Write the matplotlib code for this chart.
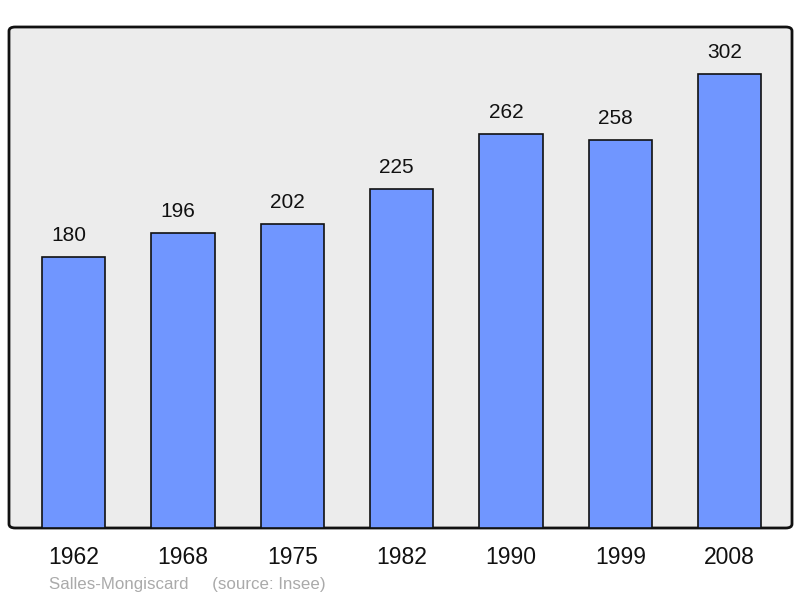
import matplotlib.pyplot as plt
from matplotlib.patches import FancyBboxPatch

years = ['1962', '1968', '1975', '1982', '1990', '1999', '2008']
population = [180, 196, 202, 225, 262, 258, 302]

plt.rcParams['font.family'] = ['Liberation Sans', 'DejaVu Sans']

fig = plt.figure(figsize=(8, 5.98), dpi=100)
ax = fig.add_axes([9 / 800, 70 / 598, 783 / 800, 501 / 598])
ax.set_facecolor('none')

# rounded frame behind everything
frame = FancyBboxPatch((0, 0), 1, 1, boxstyle='round,pad=0,rounding_size=0.008',
                       transform=ax.transAxes, facecolor='#ececec',
                       edgecolor='#111111', linewidth=2, zorder=0, clip_on=False)
ax.add_patch(frame)

x = range(len(years))
bars = ax.bar(x, population, width=0.58, color='#7096ff', edgecolor='#111111',
              linewidth=1.2, zorder=2)

for xi, val in zip(x, population):
    ax.annotate(str(val), (xi, val), xytext=(-3.6, 15.5), textcoords='offset points',
                ha='center', va='center', fontsize=15, color='#111111')

ax.set_xlim(-0.59, 6.57)
ax.set_ylim(0, 333)
ax.set_xticks(list(x))
ax.set_xticklabels(years, fontsize=16.5, color='#111111')
ax.tick_params(axis='x', length=0, pad=13)
ax.set_yticks([])
for s in ax.spines.values():
    s.set_visible(False)

fig.text(49 / 800, 1 - 584 / 598, 'Salles-Mongiscard     (source: Insee)',
         fontsize=12.2, color='#aaaaaa', ha='left', va='center')

fig.savefig('out.png', dpi=100)
